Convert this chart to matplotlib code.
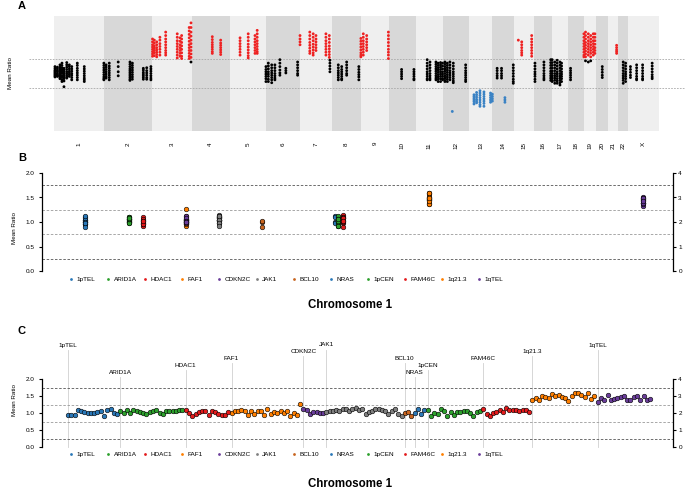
import numpy as np
import matplotlib
matplotlib.use('Agg')
import matplotlib.pyplot as plt
from matplotlib.lines import Line2D

plt.rcParams['font.family'] = ['Liberation Sans', 'DejaVu Sans']

# ---------------- Panel A data (genome-wide mean ratios) ----------------
chroms = ['1', '2', '3', '4', '5', '6', '7', '8', '9', '10', '11', '12', '13',
          '14', '15', '16', '17', '18', '19', '20', '21', '22', 'X']
chr_len = [249.3, 243.2, 198.0, 191.2, 180.9, 171.1, 159.1, 146.4, 141.2, 135.5,
           135.0, 133.9, 115.2, 107.3, 102.5, 90.4, 81.2, 78.1, 59.1, 63.0, 48.1,
           51.3, 155.3]

# (position in Mb within chromosome, mean ratios of probes there)
a_chr1 = [(5, [1.12, 1.09, 1.06, 1.04, 1.02, 1.0, 0.98, 0.96, 0.94]),
          (17, [1.11, 1.08, 1.05, 1.03, 1.0, 0.98, 0.96, 0.95]),
          (30, [1.15, 1.11, 1.08, 1.05, 1.02, 0.99, 0.96, 0.93, 0.91]),
          (40, [1.18, 1.14, 1.10, 1.06, 1.03, 1.0, 0.96, 0.93, 0.89, 0.86]),
          (50, [1.09, 1.06, 1.03, 1.0, 0.97, 0.94, 0.91, 0.87, 0.77]),
          (64, [1.19, 1.15, 1.11, 1.07, 1.03, 1.0, 0.97, 0.94, 0.92]),
          (77, [1.15, 1.12, 1.08, 1.04, 1.01, 0.98, 0.95]),
          (89, [1.12, 1.08, 1.04, 1.0, 0.97, 0.93, 0.89]),
          (117, [1.18, 1.14, 1.09, 1.05, 1.01, 0.97, 0.93, 0.89]),
          (152, [1.12, 1.08, 1.04, 1.0, 0.96, 0.92, 0.89, 0.86])]
a_chr2 = [(1, [1.18, 1.14, 1.10, 1.06, 1.02, 0.98, 0.94, 0.91, 0.89]),
          (12, [1.15, 1.11, 1.07, 1.03, 0.99, 0.95, 0.92]),
          (28, [1.18, 1.13, 1.09, 1.05, 1.01, 0.97, 0.93, 0.89]),
          (73, [1.2, 1.12, 1.03, 0.96]),
          (132, [1.2, 1.16, 1.12, 1.08, 1.05, 1.02, 0.99, 0.96, 0.93, 0.9, 0.88]),
          (144, [1.18, 1.14, 1.1, 1.06, 1.02, 0.98, 0.94, 0.9]),
          (199, [1.09, 1.06, 1.02, 0.99, 0.96, 0.93, 0.9]),
          (216, [1.1, 1.05, 1.01, 0.97, 0.93, 0.9]),
          (237, [1.12, 1.08, 1.04, 1.0, 0.96, 0.92, 0.89])]
a_chr3 = [(2, [1.6, 1.55, 1.5, 1.46, 1.42, 1.38, 1.34, 1.3]),
          (11, [1.58, 1.53, 1.48, 1.44, 1.4, 1.36, 1.31]),
          (23, [1.55, 1.5, 1.45, 1.41, 1.37, 1.33, 1.29]),
          (39, [1.63, 1.58, 1.52, 1.47, 1.42, 1.37, 1.32]),
          (68, [1.72, 1.66, 1.6, 1.55, 1.5, 1.45, 1.4, 1.36, 1.32]),
          (126, [1.69, 1.63, 1.57, 1.52, 1.47, 1.42, 1.37, 1.32, 1.27]),
          (140, [1.62, 1.56, 1.5, 1.45, 1.4, 1.35, 1.3]),
          (148, [1.66, 1.6, 1.54, 1.48, 1.42, 1.36, 1.3, 1.26]),
          (186, [1.8, 1.74, 1.68, 1.62, 1.56, 1.5, 1.45, 1.4, 1.35, 1.3, 1.26]),
          (195, [1.88, 1.8, 1.72, 1.65, 1.58, 1.52, 1.46, 1.4, 1.34, 1.28, 1.2])]
a_chr4 = [(104, [1.64, 1.59, 1.54, 1.5, 1.46, 1.42, 1.38, 1.35]),
          (146, [1.58, 1.53, 1.49, 1.45, 1.41, 1.37, 1.33])]
a_chr5 = [(52, [1.62, 1.57, 1.52, 1.47, 1.42, 1.37, 1.32]),
          (93, [1.69, 1.63, 1.57, 1.51, 1.46, 1.41, 1.36, 1.31, 1.27]),
          (127, [1.66, 1.6, 1.55, 1.5, 1.45, 1.4, 1.35]),
          (138, [1.75, 1.69, 1.63, 1.57, 1.52, 1.47, 1.42, 1.38, 1.35])]
a_chr6 = [(1, [1.12, 1.07, 1.03, 0.99, 0.95, 0.91, 0.86]),
          (13, [1.18, 1.13, 1.08, 1.03, 0.99, 0.95, 0.9, 0.86]),
          (30, [1.15, 1.1, 1.05, 1.01, 0.97, 0.93, 0.89, 0.84]),
          (46, [1.15, 1.1, 1.05, 1.0, 0.96, 0.92, 0.89]),
          (71, [1.24, 1.18, 1.12, 1.06, 1.01, 0.97]),
          (101, [1.09, 1.05, 1.01]),
          (160, [1.2, 1.15, 1.1, 1.05, 1.0, 0.97])]
a_chr7 = [(1, [1.66, 1.6, 1.55, 1.5]),
          (50, [1.72, 1.66, 1.6, 1.54, 1.49, 1.44, 1.39, 1.35]),
          (67, [1.69, 1.63, 1.57, 1.51, 1.46, 1.41, 1.36, 1.32]),
          (81, [1.66, 1.6, 1.55, 1.5, 1.45, 1.4]),
          (131, [1.69, 1.63, 1.57, 1.52, 1.47, 1.42, 1.37, 1.32]),
          (148, [1.66, 1.6, 1.54, 1.48, 1.43, 1.38, 1.33, 1.28]),
          (151, [1.23, 1.18, 1.13, 1.08, 1.03])]
a_chr8 = [(34, [1.15, 1.1, 1.05, 1.01, 0.97, 0.93, 0.89]),
          (51, [1.12, 1.07, 1.03, 0.99, 0.95, 0.91, 0.89]),
          (76, [1.2, 1.15, 1.1, 1.05, 1.0, 0.97]),
          (137, [1.12, 1.07, 1.02, 0.98, 0.94, 0.89])]
a_chr9 = [(1, [1.61, 1.56, 1.51, 1.46, 1.41, 1.36, 1.32, 1.29]),
          (13, [1.69, 1.63, 1.57, 1.52, 1.47, 1.42, 1.37, 1.32]),
          (30, [1.66, 1.6, 1.55, 1.5, 1.45, 1.4]),
          (139, [1.72, 1.66, 1.6, 1.54, 1.48, 1.42, 1.37, 1.32, 1.26])]
a_chr10 = [(64, [1.07, 1.03, 0.99, 0.95, 0.91]),
           (126, [1.07, 1.03, 0.99, 0.95, 0.91, 0.89])]
a_chr11 = [(57, [1.24, 1.18, 1.13, 1.08, 1.03, 0.99, 0.95, 0.91, 0.89]),
           (71, [1.2, 1.15, 1.1, 1.05, 1.0, 0.96, 0.92, 0.89]),
           (101, [1.2, 1.16, 1.12, 1.08, 1.04, 1.0, 0.96, 0.92, 0.89]),
           (112, [1.18, 1.14, 1.1, 1.06, 1.02, 0.98, 0.94, 0.9, 0.86]),
           (124, [1.19, 1.15, 1.11, 1.07, 1.03, 0.99, 0.95, 0.91, 0.86]),
           (134, [1.18, 1.13, 1.08, 1.03, 0.99, 0.95, 0.91, 0.89])]
a_chr12 = [(11, [1.2, 1.16, 1.12, 1.08, 1.04, 1.0, 0.96, 0.92, 0.88, 0.86]),
           (23, [1.18, 1.14, 1.1, 1.06, 1.02, 0.98, 0.94, 0.9, 0.86]),
           (36, [1.2, 1.15, 1.1, 1.05, 1.01, 0.97, 0.93, 0.89]),
           (48, [0.34]),
           (53, [1.18, 1.13, 1.08, 1.03, 0.99, 0.95, 0.91, 0.87, 0.84]),
           (115, [1.15, 1.1, 1.05, 1.01, 0.97, 0.93, 0.89, 0.86])]
a_chr13 = [(23, [0.63, 0.6, 0.57, 0.54, 0.51, 0.47]),
           (36, [0.67, 0.63, 0.59, 0.55, 0.52, 0.49]),
           (53, [0.7, 0.66, 0.62, 0.58, 0.54, 0.5, 0.46, 0.43]),
           (73, [0.68, 0.64, 0.6, 0.56, 0.52, 0.48, 0.43]),
           (106, [0.66, 0.62, 0.58, 0.54, 0.5])]
a_chr14 = [(0, [0.64, 0.6, 0.56, 0.52]),
           (24, [1.09, 1.05, 1.0, 0.96, 0.92]),
           (46, [1.09, 1.05, 1.0, 0.96, 0.92]),
           (63, [0.58, 0.54, 0.5]),
           (105, [1.15, 1.1, 1.05, 1.0, 0.95, 0.9, 0.86, 0.83])]
a_chr15 = [(23, [1.58]),
           (40, [1.55, 1.5, 1.45, 1.4, 1.36, 1.32]),
           (90, [1.66, 1.6, 1.55, 1.5, 1.45, 1.4, 1.35, 1.3])]
a_chr16 = [(4, [1.18, 1.13, 1.08, 1.03, 0.99, 0.95, 0.9, 0.86]),
           (49, [1.2, 1.15, 1.1, 1.05, 1.0, 0.96, 0.92, 0.89]),
           (83, [1.24, 1.19, 1.14, 1.09, 1.04, 1.0, 0.96, 0.92, 0.88])]
a_chr17 = [(0, [1.24, 1.19, 1.14, 1.09, 1.04, 1.0, 0.96, 0.92, 0.88, 0.86]),
           (13, [1.2, 1.15, 1.1, 1.05, 1.0, 0.96, 0.92, 0.88, 0.83]),
           (25, [1.23, 1.18, 1.13, 1.08, 1.03, 0.99, 0.95, 0.91, 0.87, 0.83]),
           (39, [1.2, 1.15, 1.1, 1.05, 1.0, 0.96, 0.92, 0.88, 0.84, 0.8]),
           (47, [1.18, 1.13, 1.08, 1.03, 0.99, 0.95, 0.91, 0.86])]
a_chr18 = [(11, [1.09, 1.05, 1.01, 0.97, 0.93, 0.89])]
a_chr19 = [(0, [1.69, 1.63, 1.57, 1.52, 1.47, 1.42, 1.37, 1.32, 1.29]),
           (8, [1.72, 1.66, 1.6, 1.54, 1.49, 1.44, 1.39, 1.34, 1.29, 1.22]),
           (22, [1.69, 1.63, 1.57, 1.52, 1.47, 1.42, 1.37, 1.32, 1.2]),
           (34, [1.66, 1.6, 1.55, 1.5, 1.45, 1.4, 1.35, 1.29, 1.22]),
           (47, [1.69, 1.63, 1.57, 1.52, 1.47, 1.42, 1.37, 1.32]),
           (55, [1.69, 1.63, 1.57, 1.51, 1.45, 1.4, 1.35])]
a_chr20 = [(33, [1.12, 1.07, 1.02, 0.97, 0.93])]
a_chr21 = [(42, [1.49, 1.45, 1.41, 1.38, 1.35])]
a_chr22 = [(27, [1.2, 1.15, 1.1, 1.05, 1.0, 0.96, 0.92, 0.88, 0.83]),
           (39, [1.18, 1.13, 1.08, 1.03, 0.99, 0.95, 0.91, 0.86])]
a_chrX = [(12, [1.12, 1.07, 1.02, 0.97, 0.93]),
          (43, [1.15, 1.1, 1.05, 1.0, 0.95, 0.91, 0.89]),
          (73, [1.15, 1.1, 1.05, 1.0, 0.95, 0.91, 0.89]),
          (121, [1.18, 1.13, 1.08, 1.03, 0.98, 0.94, 0.91])]
a_cols = [a_chr1, a_chr2, a_chr3, a_chr4, a_chr5, a_chr6, a_chr7, a_chr8, a_chr9,
          a_chr10, a_chr11, a_chr12, a_chr13, a_chr14, a_chr15, a_chr16, a_chr17,
          a_chr18, a_chr19, a_chr20, a_chr21, a_chr22, a_chrX]

# ---------------- Panels B / C data (chromosome 1 probes) ----------------
probes = ['1pTEL', 'ARID1A', 'HDAC1', 'FAF1', 'CDKN2C', 'JAK1', 'BCL10', 'NRAS',
          '1pCEN', 'FAM46C', '1q21.3', '1qTEL']
probe_colors = ['#2a78b8', '#2ca02c', '#e31a1c', '#ff7f00', '#6a3d9a', '#7f7f7f',
                '#c8641e', '#2a78b8', '#2ca02c', '#e31a1c', '#ff7f00', '#6a3d9a']
c_1pTEL = [0.95, 0.95, 0.95, 1.10, 1.05, 1.02, 1.0, 0.99, 0.99, 1.04, 1.05, 0.90,
           1.08, 1.12, 1.0, 0.97]
c_ARID1A = [1.05, 0.99, 1.1, 0.99, 1.1, 1.06, 1.02, 1.0, 0.97, 1.02, 1.05, 1.08,
            1.0, 0.97, 1.06, 1.06, 1.06, 1.06, 1.1, 1.08]
c_HDAC1 = [1.10, 1.0, 0.92, 0.97, 1.02, 1.05, 1.05, 0.95, 1.07, 1.02, 0.97, 0.95,
           0.95, 1.02]
c_FAF1 = [1.0, 1.07, 1.07, 1.10, 1.05, 0.95, 1.05, 0.97, 1.05, 1.05, 0.95, 1.12,
          0.97, 1.02, 1.0, 1.07, 1.0, 1.05, 0.92, 1.0, 0.95, 1.27]
c_CDKN2C = [1.13, 1.09, 0.97, 1.03, 1.03, 1.01, 1.0]
c_JAK1 = [1.02, 1.05, 1.05, 1.08, 1.05, 1.11, 1.13, 1.05, 1.11, 1.15, 1.08, 1.13,
          0.98, 1.03, 1.05, 1.11, 1.11, 1.08, 1.05, 0.98, 1.05, 1.13, 0.98, 0.91]
c_BCL10 = [1.0, 1.03, 0.9]
c_NRAS = [1.0, 1.13, 0.98, 1.1]
c_1pCEN = [1.1, 0.92, 1.0, 0.98, 1.13, 1.07, 0.92, 1.03, 0.95, 1.03, 1.04, 1.05,
           1.05, 1.01, 0.91, 1.03, 1.07]
c_FAM46C = [1.13, 0.98, 0.9, 1.0, 1.03, 1.08, 1.03, 1.15, 1.1, 1.1, 1.08, 1.05,
            1.08, 1.08, 1.03]
c_1q213 = [1.39, 1.45, 1.37, 1.49, 1.47, 1.44, 1.57, 1.49, 1.52, 1.47, 1.45, 1.36,
           1.49, 1.59, 1.59, 1.52, 1.47, 1.59, 1.42, 1.49]
c_1qTEL = [1.33, 1.45, 1.39, 1.52, 1.39, 1.42, 1.45, 1.47, 1.49, 1.39, 1.39, 1.47,
           1.49, 1.37, 1.49, 1.39, 1.42]
probe_values = [c_1pTEL, c_ARID1A, c_HDAC1, c_FAF1, c_CDKN2C, c_JAK1, c_BCL10,
                c_NRAS, c_1pCEN, c_FAM46C, c_1q213, c_1qTEL]
# probe location along chromosome 1 (panel B axis units)
b_pos = [85, 129, 143, 186, 186, 219, 262, 335, 338, 343, 429, 643]
label_level = [0, 4, 3, 2, 1, 0, 2, 4, 3, 2, 1, 0]

# ---------------- Figure ----------------
W, H = 685, 490


def fx(x):
    return x / W


def fy(y):
    return 1 - y / H


fig = plt.figure(figsize=(6.85, 4.9), dpi=100)

# ---------- Panel A ----------
starts = np.concatenate([[0], np.cumsum(chr_len)[:-1]])
total = float(np.sum(chr_len))
ppm = (659 - 54) / total
axA = fig.add_axes([fx(29), fy(131), (685 - 29) / W, 115 / H])
axA.set_xlim(-(54 - 29) / ppm, total + (685 - 659) / ppm)
axA.set_ylim(0, 2)
for i, (s, l) in enumerate(zip(starts, chr_len)):
    axA.axvspan(s, s + l, color='#efefef' if i % 2 == 0 else '#d8d8d8', lw=0, zorder=0)
for yv in (0.75, 1.25):
    axA.axhline(yv, color='#a8a8a8', lw=0.6, ls=(0, (2, 1.5)), zorder=1)
xs, ys = [], []
for s, cols in zip(starts, a_cols):
    for pos, vals in cols:
        for v in vals:
            xs.append(s + pos)
            ys.append(v)
colsA = ['#ee2222' if v > 1.25 else ('#3a82c4' if v < 0.75 else 'black') for v in ys]
axA.scatter(xs, ys, s=4.2, c=colsA, lw=0, zorder=3)
axA.set_xticks(starts + np.array(chr_len) / 2)
axA.set_xticklabels(chroms, rotation=90, fontsize=4.5)
axA.tick_params(axis='x', length=0, pad=8)
axA.set_yticks([])
for sp in axA.spines.values():
    sp.set_visible(False)
fig.text(fx(10), fy(73), 'Mean Ratio', rotation=90, fontsize=4.5, ha='center', va='center')


def style(ax):
    ax.set_ylim(0, 2)
    for k in ('top', 'right', 'bottom'):
        ax.spines[k].set_visible(False)
    ax.spines['left'].set_bounds(0, 2)
    ax.spines['left'].set_linewidth(0.9)
    ax.set_yticks([0, 0.5, 1, 1.5, 2])
    ax.set_yticklabels(['0.0', '0.5', '1.0', '1.5', '2.0'])
    ax.tick_params(axis='y', labelsize=4.6, length=2.3, width=0.8, pad=3)
    ax.set_xticks([])
    for yv, c in ((0.25, '#555555'), (0.75, '#9a9a9a'), (1.25, '#9a9a9a'), (1.75, '#555555')):
        ax.axhline(yv, color=c, lw=0.6, ls=(0, (3, 2)), zorder=1)
    tw = ax.twinx()
    tw.set_ylim(0, 4)
    for k in ('top', 'left', 'bottom'):
        tw.spines[k].set_visible(False)
    tw.spines['right'].set_bounds(0, 4)
    tw.spines['right'].set_linewidth(0.9)
    tw.set_yticks([0, 1, 2, 3, 4])
    tw.tick_params(axis='y', labelsize=4.6, length=2.3, width=0.8, pad=1.5)
    return tw


def legend_row(y):
    for k, (name, c) in enumerate(zip(probes, probe_colors)):
        x = 71 + 37.1 * k
        fig.add_artist(Line2D([fx(x)], [fy(y)], transform=fig.transFigure, marker='o',
                              ms=2.0, color=c, ls='', mew=0))
        fig.text(fx(x + 5.5), fy(y), name, fontsize=4.6, ha='left', va='center')


# ---------- Panel B ----------
axB = fig.add_axes([fx(42), fy(271), (673 - 42) / W, 98 / H])
axB.set_xlim(42, 673)
twB = style(axB)
for pos, vals, c in zip(b_pos, probe_values, probe_colors):
    axB.scatter([pos] * len(vals), vals, s=11, facecolor=c, edgecolor='black',
                lw=0.4, zorder=3)
fig.text(fx(15), fy(228), 'Mean Ratio', rotation=90, fontsize=4.5, ha='center', va='center')
legend_row(279)
fig.text(fx(350), fy(305), 'Chromosome 1', fontsize=8.3, fontweight='bold', ha='center', va='center')

# ---------- Panel C ----------
step = 3.27
axC = fig.add_axes([fx(42), fy(447), (673 - 42) / W, 68 / H])
axC.set_xlim((42 - 68) / step, (673 - 68) / step)
twC = style(axC)
idx = 0
for name, vals, c, lev in zip(probes, probe_values, probe_colors, label_level):
    xi = np.arange(idx, idx + len(vals))
    ylab_px = 345 + lev * 6.75
    ylab = (447 - ylab_px) / 34.0
    ytop = (447 - (ylab_px + 4.5)) / 34.0
    axC.plot([idx, idx], [0, ytop], color='#d0d0d0', lw=0.6, zorder=0.5, clip_on=False)
    axC.text(idx, ylab, name, fontsize=4.6, ha='center', va='center', clip_on=False)
    axC.scatter(xi, vals, s=11, facecolor=c, edgecolor='black', lw=0.4, zorder=3)
    idx += len(vals)
fig.text(fx(15), fy(400), 'Mean Ratio', rotation=90, fontsize=4.5, ha='center', va='center')
legend_row(454)
fig.text(fx(350), fy(484), 'Chromosome 1', fontsize=8.3, fontweight='bold', ha='center', va='center')

# panel letters
for lab, y in (('A', 6), ('B', 158), ('C', 331)):
    fig.text(fx(22), fy(y), lab, fontsize=8, fontweight='bold', ha='center', va='center')

fig.savefig('out.png', dpi=100)
